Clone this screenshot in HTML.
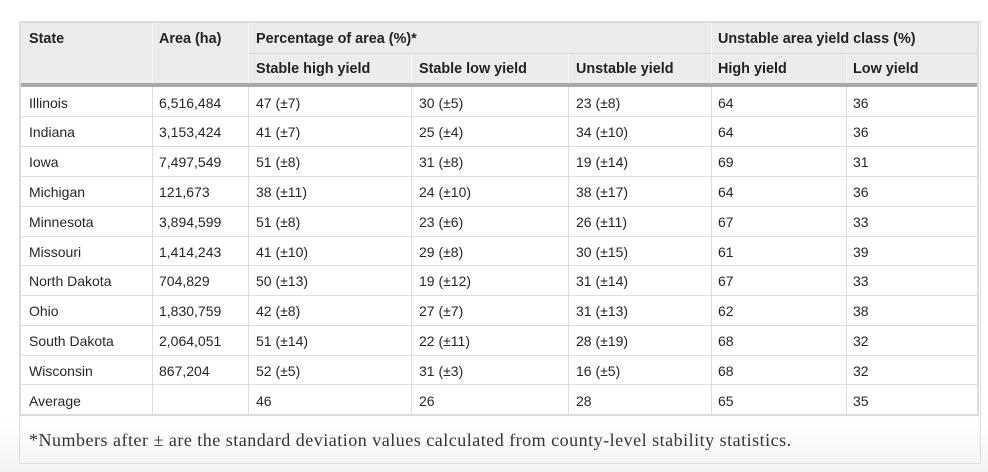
<!DOCTYPE html>
<html>
<head>
<meta charset="utf-8">
<style>
html,body{margin:0;padding:0;}
body{width:988px;height:472px;position:relative;overflow:hidden;
 background:linear-gradient(to bottom,#ffffff 0px,#ffffff 420px,#f2f2f2 472px);
 font-family:"Liberation Sans",Arial,sans-serif;}
.abs{position:absolute;}
.hbg{left:19px;top:21px;width:960px;height:62px;background:#ececec;}
.thick{left:19px;top:83px;width:960px;height:4px;background:#a9a9a9;}
.tb{border:2px solid #dcdcdc;box-sizing:border-box;}
.container{left:19px;top:21px;width:962px;height:443px;border:1px solid #dedede;box-sizing:border-box;}
.hl{height:1px;background:#dedede;}
.vl{width:1px;background:#dedede;}
.vh{width:1px;background:#f7f7f7;}
.t{position:absolute;font-size:14px;line-height:20px;white-space:nowrap;color:#262626;}
.h{font-weight:bold;color:#222;font-size:14.4px;}
.foot{position:absolute;left:29px;top:428px;font-family:"Liberation Serif","Times New Roman",serif;font-size:18px;letter-spacing:0.5px;line-height:24px;color:#333;white-space:nowrap;}
</style>
</head>
<body>
<div class="abs container"></div>
<div class="abs hbg"></div>
<div class="abs thick"></div>

<!-- header lines -->
<div class="abs hl" style="left:248px;top:53px;width:731px;background:#dadada;"></div>
<div class="abs vh" style="left:152px;top:21px;height:62px;"></div>
<div class="abs vh" style="left:248px;top:21px;height:62px;"></div>
<div class="abs vh" style="left:711px;top:21px;height:62px;"></div>
<div class="abs vh" style="left:411px;top:54px;height:29px;"></div>
<div class="abs vh" style="left:568px;top:54px;height:29px;"></div>
<div class="abs vh" style="left:846px;top:54px;height:29px;"></div>

<!-- body vertical lines -->
<div class="abs vl" style="left:152px;top:87px;height:328px;"></div>
<div class="abs vl" style="left:248px;top:87px;height:328px;"></div>
<div class="abs vl" style="left:411px;top:87px;height:328px;"></div>
<div class="abs vl" style="left:568px;top:87px;height:328px;"></div>
<div class="abs vl" style="left:711px;top:87px;height:328px;"></div>
<div class="abs vl" style="left:846px;top:87px;height:328px;"></div>

<!-- body horizontal lines -->
<div class="abs hl" style="left:19px;top:116px;width:960px;"></div>
<div class="abs hl" style="left:19px;top:146px;width:960px;"></div>
<div class="abs hl" style="left:19px;top:176px;width:960px;"></div>
<div class="abs hl" style="left:19px;top:206px;width:960px;"></div>
<div class="abs hl" style="left:19px;top:236px;width:960px;"></div>
<div class="abs hl" style="left:19px;top:265px;width:960px;"></div>
<div class="abs hl" style="left:19px;top:295px;width:960px;"></div>
<div class="abs hl" style="left:19px;top:325px;width:960px;"></div>
<div class="abs hl" style="left:19px;top:355px;width:960px;"></div>
<div class="abs hl" style="left:19px;top:384px;width:960px;"></div>

<!-- table outer border -->
<div class="abs tb" style="left:19px;top:21px;width:960px;height:395px;"></div>

<!-- header text -->
<div class="t h" style="left:29px;top:29px;">State</div>
<div class="t h" style="left:159px;top:29px;">Area (ha)</div>
<div class="t h" style="left:256px;top:29px;">Percentage of area (%)*</div>
<div class="t h" style="left:718px;top:29px;">Unstable area yield class (%)</div>
<div class="t h" style="left:256px;top:58.5px;">Stable high yield</div>
<div class="t h" style="left:419px;top:58.5px;">Stable low yield</div>
<div class="t h" style="left:576px;top:58.5px;">Unstable yield</div>
<div class="t h" style="left:718px;top:58.5px;">High yield</div>
<div class="t h" style="left:853px;top:58.5px;">Low yield</div>

<!-- rows -->
<div class="t" style="left:29px;top:92.5px;">Illinois</div>
<div class="t" style="left:159px;top:92.5px;">6,516,484</div>
<div class="t" style="left:256px;top:92.5px;">47 (±7)</div>
<div class="t" style="left:419px;top:92.5px;">30 (±5)</div>
<div class="t" style="left:576px;top:92.5px;">23 (±8)</div>
<div class="t" style="left:718px;top:92.5px;">64</div>
<div class="t" style="left:853px;top:92.5px;">36</div>

<div class="t" style="left:29px;top:122.3px;">Indiana</div>
<div class="t" style="left:159px;top:122.3px;">3,153,424</div>
<div class="t" style="left:256px;top:122.3px;">41 (±7)</div>
<div class="t" style="left:419px;top:122.3px;">25 (±4)</div>
<div class="t" style="left:576px;top:122.3px;">34 (±10)</div>
<div class="t" style="left:718px;top:122.3px;">64</div>
<div class="t" style="left:853px;top:122.3px;">36</div>

<div class="t" style="left:29px;top:152.1px;">Iowa</div>
<div class="t" style="left:159px;top:152.1px;">7,497,549</div>
<div class="t" style="left:256px;top:152.1px;">51 (±8)</div>
<div class="t" style="left:419px;top:152.1px;">31 (±8)</div>
<div class="t" style="left:576px;top:152.1px;">19 (±14)</div>
<div class="t" style="left:718px;top:152.1px;">69</div>
<div class="t" style="left:853px;top:152.1px;">31</div>

<div class="t" style="left:29px;top:181.9px;">Michigan</div>
<div class="t" style="left:159px;top:181.9px;">121,673</div>
<div class="t" style="left:256px;top:181.9px;">38 (±11)</div>
<div class="t" style="left:419px;top:181.9px;">24 (±10)</div>
<div class="t" style="left:576px;top:181.9px;">38 (±17)</div>
<div class="t" style="left:718px;top:181.9px;">64</div>
<div class="t" style="left:853px;top:181.9px;">36</div>

<div class="t" style="left:29px;top:211.7px;">Minnesota</div>
<div class="t" style="left:159px;top:211.7px;">3,894,599</div>
<div class="t" style="left:256px;top:211.7px;">51 (±8)</div>
<div class="t" style="left:419px;top:211.7px;">23 (±6)</div>
<div class="t" style="left:576px;top:211.7px;">26 (±11)</div>
<div class="t" style="left:718px;top:211.7px;">67</div>
<div class="t" style="left:853px;top:211.7px;">33</div>

<div class="t" style="left:29px;top:241.5px;">Missouri</div>
<div class="t" style="left:159px;top:241.5px;">1,414,243</div>
<div class="t" style="left:256px;top:241.5px;">41 (±10)</div>
<div class="t" style="left:419px;top:241.5px;">29 (±8)</div>
<div class="t" style="left:576px;top:241.5px;">30 (±15)</div>
<div class="t" style="left:718px;top:241.5px;">61</div>
<div class="t" style="left:853px;top:241.5px;">39</div>

<div class="t" style="left:29px;top:271.3px;">North Dakota</div>
<div class="t" style="left:159px;top:271.3px;">704,829</div>
<div class="t" style="left:256px;top:271.3px;">50 (±13)</div>
<div class="t" style="left:419px;top:271.3px;">19 (±12)</div>
<div class="t" style="left:576px;top:271.3px;">31 (±14)</div>
<div class="t" style="left:718px;top:271.3px;">67</div>
<div class="t" style="left:853px;top:271.3px;">33</div>

<div class="t" style="left:29px;top:301.1px;">Ohio</div>
<div class="t" style="left:159px;top:301.1px;">1,830,759</div>
<div class="t" style="left:256px;top:301.1px;">42 (±8)</div>
<div class="t" style="left:419px;top:301.1px;">27 (±7)</div>
<div class="t" style="left:576px;top:301.1px;">31 (±13)</div>
<div class="t" style="left:718px;top:301.1px;">62</div>
<div class="t" style="left:853px;top:301.1px;">38</div>

<div class="t" style="left:29px;top:330.9px;">South Dakota</div>
<div class="t" style="left:159px;top:330.9px;">2,064,051</div>
<div class="t" style="left:256px;top:330.9px;">51 (±14)</div>
<div class="t" style="left:419px;top:330.9px;">22 (±11)</div>
<div class="t" style="left:576px;top:330.9px;">28 (±19)</div>
<div class="t" style="left:718px;top:330.9px;">68</div>
<div class="t" style="left:853px;top:330.9px;">32</div>

<div class="t" style="left:29px;top:360.7px;">Wisconsin</div>
<div class="t" style="left:159px;top:360.7px;">867,204</div>
<div class="t" style="left:256px;top:360.7px;">52 (±5)</div>
<div class="t" style="left:419px;top:360.7px;">31 (±3)</div>
<div class="t" style="left:576px;top:360.7px;">16 (±5)</div>
<div class="t" style="left:718px;top:360.7px;">68</div>
<div class="t" style="left:853px;top:360.7px;">32</div>

<div class="t" style="left:29px;top:390.5px;">Average</div>
<div class="t" style="left:256px;top:390.5px;">46</div>
<div class="t" style="left:419px;top:390.5px;">26</div>
<div class="t" style="left:576px;top:390.5px;">28</div>
<div class="t" style="left:718px;top:390.5px;">65</div>
<div class="t" style="left:853px;top:390.5px;">35</div>

<div class="foot">*Numbers after ± are the standard deviation values calculated from county-level stability statistics.</div>
</body>
</html>
